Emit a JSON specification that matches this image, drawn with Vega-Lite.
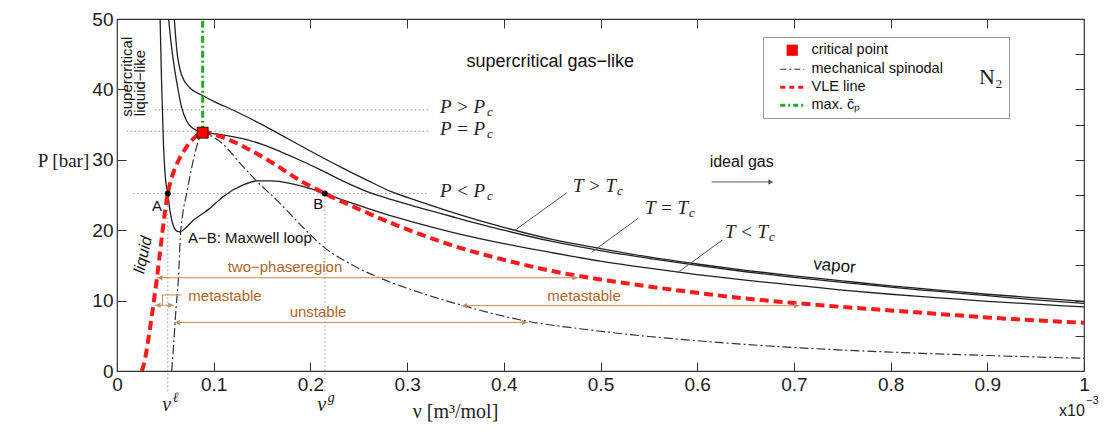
{
  "$schema": "https://vega.github.io/schema/vega-lite/v6.json",
  "width": 967,
  "height": 352,
  "autosize": {"type": "none"},
  "padding": {"left": 117, "top": 19, "right": 33, "bottom": 64},
  "background": "white",
  "config": {
    "view": {"stroke": "#333", "strokeWidth": 1.2},
    "axis": {"grid": false, "domain": false, "tickColor": "#333", "tickSize": -9, "tickWidth": 1,
      "labelFont": "Liberation Sans", "labelFontSize": 19, "labelColor": "#222", "labelFlush": false, "labelOverlap": false, "labelBound": false,
      "titleFont": "Liberation Serif", "titleFontSize": 20, "titleFontWeight": "normal", "titleColor": "#222"},
    "text": {"font": "Liberation Sans", "color": "#111"}
  },
  "datasets": {
    "iso": [
      {"T":"gt","v":0.059,"P":50.5},{"T":"gt","v":0.0617,"P":45.8},{"T":"gt","v":0.0669,"P":42.0},{"T":"gt","v":0.0755,"P":40.2},{"T":"gt","v":0.0876,"P":39.2},{"T":"gt","v":0.1,"P":38.3},{"T":"gt","v":0.113,"P":37.5},{"T":"gt","v":0.13,"P":36.4},{"T":"gt","v":0.15,"P":35.0},{"T":"gt","v":0.17,"P":33.5},{"T":"gt","v":0.19,"P":32.0},{"T":"gt","v":0.21,"P":30.5},{"T":"gt","v":0.235,"P":28.7},{"T":"gt","v":0.26,"P":27.0},{"T":"gt","v":0.285,"P":25.4},{"T":"gt","v":0.31,"P":24.2},{"T":"gt","v":0.35,"P":22.4},{"T":"gt","v":0.4,"P":20.4},{"T":"gt","v":0.45,"P":18.7},{"T":"gt","v":0.5,"P":17.4},{"T":"gt","v":0.55,"P":16.2},{"T":"gt","v":0.6,"P":15.2},{"T":"gt","v":0.65,"P":14.3},{"T":"gt","v":0.7,"P":13.5},{"T":"gt","v":0.75,"P":12.8},{"T":"gt","v":0.8,"P":12.1},{"T":"gt","v":0.85,"P":11.5},{"T":"gt","v":0.9,"P":10.9},{"T":"gt","v":0.95,"P":10.4},{"T":"gt","v":1.0,"P":9.9},
      {"T":"eq","v":0.053,"P":50.5},{"T":"eq","v":0.0566,"P":45.8},{"T":"eq","v":0.0617,"P":41.1},{"T":"eq","v":0.0669,"P":37.4},{"T":"eq","v":0.072,"P":35.5},{"T":"eq","v":0.078,"P":34.5},{"T":"eq","v":0.0886,"P":33.9},{"T":"eq","v":0.1,"P":33.7},{"T":"eq","v":0.115,"P":33.4},{"T":"eq","v":0.13,"P":33.0},{"T":"eq","v":0.15,"P":32.2},{"T":"eq","v":0.17,"P":31.1},{"T":"eq","v":0.19,"P":29.9},{"T":"eq","v":0.21,"P":28.6},{"T":"eq","v":0.235,"P":26.9},{"T":"eq","v":0.26,"P":25.4},{"T":"eq","v":0.285,"P":24.3},{"T":"eq","v":0.31,"P":23.3},{"T":"eq","v":0.35,"P":21.8},{"T":"eq","v":0.4,"P":20.0},{"T":"eq","v":0.45,"P":18.4},{"T":"eq","v":0.5,"P":17.1},{"T":"eq","v":0.55,"P":16.0},{"T":"eq","v":0.6,"P":15.0},{"T":"eq","v":0.65,"P":14.1},{"T":"eq","v":0.7,"P":13.3},{"T":"eq","v":0.75,"P":12.6},{"T":"eq","v":0.8,"P":11.9},{"T":"eq","v":0.85,"P":11.3},{"T":"eq","v":0.9,"P":10.7},{"T":"eq","v":0.95,"P":10.1},{"T":"eq","v":1.0,"P":9.6},
      {"T":"lt","v":0.0445,"P":50.5},{"T":"lt","v":0.046,"P":41.5},{"T":"lt","v":0.048,"P":32.5},{"T":"lt","v":0.05,"P":27.5},{"T":"lt","v":0.0525,"P":25.2},{"T":"lt","v":0.055,"P":22.6},{"T":"lt","v":0.058,"P":20.7},{"T":"lt","v":0.0615,"P":19.9},{"T":"lt","v":0.065,"P":19.75},{"T":"lt","v":0.07,"P":20.2},{"T":"lt","v":0.079,"P":21.4},{"T":"lt","v":0.088,"P":22.3},{"T":"lt","v":0.096,"P":23.1},{"T":"lt","v":0.11,"P":24.8},{"T":"lt","v":0.13,"P":26.4},{"T":"lt","v":0.145,"P":27.0},{"T":"lt","v":0.16,"P":27.0},{"T":"lt","v":0.18,"P":26.6},{"T":"lt","v":0.2,"P":25.9},{"T":"lt","v":0.215,"P":25.2},{"T":"lt","v":0.24,"P":24.0},{"T":"lt","v":0.27,"P":22.6},{"T":"lt","v":0.3,"P":21.4},{"T":"lt","v":0.35,"P":19.6},{"T":"lt","v":0.4,"P":18.1},{"T":"lt","v":0.45,"P":16.8},{"T":"lt","v":0.5,"P":15.6},{"T":"lt","v":0.55,"P":14.6},{"T":"lt","v":0.6,"P":13.7},{"T":"lt","v":0.65,"P":12.9},{"T":"lt","v":0.7,"P":12.2},{"T":"lt","v":0.75,"P":11.5},{"T":"lt","v":0.8,"P":10.9},{"T":"lt","v":0.85,"P":10.4},{"T":"lt","v":0.9,"P":9.9},{"T":"lt","v":0.95,"P":9.5},{"T":"lt","v":1.0,"P":9.1}
    ],
    "vle": [
      {"v":0.0256,"P":0},{"v":0.0275,"P":0.8},{"v":0.0307,"P":3.0},{"v":0.0335,"P":5.5},{"v":0.0359,"P":7.7},{"v":0.0385,"P":10.3},{"v":0.041,"P":12.9},{"v":0.0435,"P":15.7},{"v":0.046,"P":18.6},{"v":0.049,"P":22.0},{"v":0.0525,"P":25.2},{"v":0.056,"P":27.2},{"v":0.06,"P":28.8},{"v":0.065,"P":30.3},{"v":0.0703,"P":31.5},{"v":0.079,"P":33.0},{"v":0.0886,"P":33.85},{"v":0.096,"P":33.8},{"v":0.103,"P":33.5},{"v":0.115,"P":32.9},{"v":0.1306,"P":31.9},{"v":0.148,"P":30.6},{"v":0.165,"P":29.2},{"v":0.19,"P":27.0},{"v":0.215,"P":25.2},{"v":0.25,"P":23.0},{"v":0.293,"P":20.5},{"v":0.35,"P":17.7},{"v":0.4,"P":15.8},{"v":0.45,"P":14.2},{"v":0.5,"P":13.0},{"v":0.55,"P":12.0},{"v":0.6,"P":11.1},{"v":0.65,"P":10.3},{"v":0.706,"P":9.6},{"v":0.75,"P":9.1},{"v":0.8,"P":8.6},{"v":0.85,"P":8.1},{"v":0.9,"P":7.6},{"v":0.95,"P":7.2},{"v":1.0,"P":6.85}
    ],
    "spin": [
      {"v":0.0566,"P":0},{"v":0.0585,"P":3.5},{"v":0.06,"P":6.8},{"v":0.062,"P":10.5},{"v":0.0634,"P":12.9},{"v":0.0645,"P":16.0},{"v":0.0655,"P":19.0},{"v":0.068,"P":22.3},{"v":0.072,"P":25.2},{"v":0.079,"P":30.0},{"v":0.084,"P":32.6},{"v":0.0886,"P":33.85},{"v":0.096,"P":33.5},{"v":0.1065,"P":32.6},{"v":0.1306,"P":29.0},{"v":0.145,"P":26.9},{"v":0.165,"P":24.3},{"v":0.196,"P":19.9},{"v":0.213,"P":17.7},{"v":0.24,"P":15.3},{"v":0.272,"P":13.2},{"v":0.293,"P":12.1},{"v":0.355,"P":9.4},{"v":0.427,"P":7.0},{"v":0.479,"P":6.0},{"v":0.55,"P":4.9},{"v":0.6,"P":4.3},{"v":0.686,"P":3.45},{"v":0.789,"P":2.74},{"v":0.9,"P":2.2},{"v":1.0,"P":1.8}
    ]
  },
  "layer": [
    {
      "data": {"values": [{"v1":0.039,"v2":0.322,"P":37.1},{"v1":0.010,"v2":0.322,"P":34.05},{"v1":0.0165,"v2":0.322,"P":25.2}]},
      "mark": {"type": "rule", "color": "#999", "strokeWidth": 1, "strokeDash": [1.5, 2.5]},
      "encoding": {
        "x": {"field": "v1", "type": "quantitative", "scale": {"domain": [0, 1], "nice": false, "zero": false},
              "axis": {"orient": "top", "labels": false, "title": null, "values": [0.1,0.2,0.3,0.4,0.5,0.6,0.7,0.8,0.9]}},
        "x2": {"field": "v2"},
        "y": {"field": "P", "type": "quantitative", "scale": {"domain": [0, 50], "nice": false, "zero": false},
              "axis": {"orient": "right", "labels": false, "title": null, "values": [5,10,15,20,25,30,35,40,45]}}
      }
    },
    {
      "layer": [
        {
          "data": {"values": [{"v":0.0525,"P1":25.2,"P2":-3.2},{"v":0.215,"P1":25.2,"P2":-3.2}]},
          "mark": {"type": "rule", "color": "#999", "strokeWidth": 1, "strokeDash": [1.5, 2.5], "clip": false},
          "encoding": {
            "x": {"field": "v", "type": "quantitative", "scale": {"domain": [0, 1], "nice": false, "zero": false},
                  "axis": {"orient": "bottom", "values": [0,0.1,0.2,0.3,0.4,0.5,0.6,0.7,0.8,0.9,1], "format": "~g", "labelPadding": 13,
                           "title": "ν [m³/mol]", "titleX": 338, "titleY": 40, "titleBaseline": "middle", "titleAlign": "center", "titleAnchor": null}},
            "y": {"field": "P1", "type": "quantitative", "scale": {"domain": [0, 50], "nice": false, "zero": false},
                  "axis": {"orient": "left", "values": [0,5,10,15,20,25,30,35,40,45,50], "labelPadding": 13,
                           "title": "P [bar]", "titleFontSize": 19, "titleAngle": 0, "titleX": -54, "titleY": 141, "titleAlign": "center", "titleBaseline": "middle", "titleAnchor": null}},
            "y2": {"field": "P2"}
          }
        },
        {
          "data": {"name": "iso"},
          "mark": {"type": "line", "color": "#222", "strokeWidth": 1.3, "interpolate": "monotone", "clip": true},
          "encoding": {
            "x": {"field": "v", "type": "quantitative"},
            "y": {"field": "P", "type": "quantitative"},
            "detail": {"field": "T"}
          }
        },
        {
          "data": {"name": "spin"},
          "mark": {"type": "line", "strokeWidth": 1.2, "strokeDash": [9, 3, 2, 3], "interpolate": "monotone", "clip": true},
          "encoding": {
            "x": {"field": "v", "type": "quantitative"},
            "y": {"field": "P", "type": "quantitative"},
            "color": {"datum": "mechanical spinodal",
              "scale": {"domain": ["critical point", "mechanical spinodal", "VLE line", "max. c̄ₚ"], "range": ["#ff0000", "#333333", "#ff1a1a", "#1faa1f"]},
              "legend": {
                "orient": "none", "legendX": 646, "legendY": 18,
                "title": "N₂ ", "titleOrient": "right", "titleFont": "Liberation Serif", "titleFontSize": 22, "titleFontWeight": "normal", "titleColor": "#222",
                "titlePadding": 36, "titleBaseline": "middle", "titleAnchor": "middle",
                "strokeColor": "#999", "fillColor": "white", "padding": 6,
                "symbolOffset": 16, "labelOffset": 12, "symbolSize": 100, "rowPadding": 3,
                "labelFont": "Liberation Sans", "labelFontSize": 14.5, "labelColor": "#111",
                "encode": {"symbols": {"update": {
                  "shape": {"signal": "datum.value === 'critical point' ? 'square' : 'stroke'"},
                  "size": {"signal": "datum.value === 'critical point' ? 110 : 576"},
                  "fill": {"signal": "datum.value === 'critical point' ? '#ff0000' : 'transparent'"},
                  "fillOpacity": {"value": 1},
                  "opacity": {"value": 1},
                  "stroke": {"signal": "datum.value === 'critical point' ? '#000000' : scale('color', datum.value)"},
                  "strokeWidth": {"signal": "datum.value === 'critical point' ? 0.8 : (datum.value === 'mechanical spinodal' ? 1.2 : 3)"},
                  "strokeDash": {"signal": "datum.value === 'mechanical spinodal' ? [6,3,2,3] : (datum.value === 'VLE line' ? [5,4] : (datum.value === 'critical point' ? [1,0] : [5,3,2,3]))"}
                }}}
              }
            }
          }
        },
        {
          "data": {"name": "vle"},
          "mark": {"type": "line", "strokeWidth": 4, "strokeDash": [9, 5], "interpolate": "monotone", "clip": true},
          "encoding": {
            "x": {"field": "v", "type": "quantitative"},
            "y": {"field": "P", "type": "quantitative"},
            "color": {"datum": "VLE line"}
          }
        },
        {
          "data": {"values": [{"v":0.0886,"P":33.85},{"v":0.0886,"P":50.5}]},
          "mark": {"type": "line", "strokeWidth": 3, "strokeDash": [7, 3, 2, 3], "clip": true},
          "encoding": {
            "x": {"field": "v", "type": "quantitative"},
            "y": {"field": "P", "type": "quantitative"},
            "color": {"datum": "max. c̄ₚ"}
          }
        },
        {
          "data": {"values": [{"v1":0.041,"v2":0.477,"P":13.25},{"v1":0.039,"v2":0.059,"P":9.33},{"v1":0.356,"v2":0.706,"P":9.28},{"v1":0.059,"v2":0.425,"P":6.9}]},
          "mark": {"type": "rule", "color": "#c48a5e", "strokeWidth": 1},
          "encoding": {
            "x": {"field": "v1", "type": "quantitative"},
            "x2": {"field": "v2"},
            "y": {"field": "P", "type": "quantitative"}
          }
        },
        {
          "data": {"values": [{"v":0.0669,"P":10.8,"o":1},{"v":0.047,"P":10.8,"o":2},{"v":0.047,"P":9.33,"o":3}]},
          "mark": {"type": "line", "color": "#c48a5e", "strokeWidth": 1},
          "encoding": {
            "x": {"field": "v", "type": "quantitative"},
            "y": {"field": "P", "type": "quantitative"},
            "order": {"field": "o"}
          }
        },
        {
          "data": {"values": [
            {"v":0.0445,"P":13.25,"dir":"left"},{"v":0.4735,"P":13.25,"dir":"right"},
            {"v":0.0425,"P":9.33,"dir":"left"},{"v":0.0555,"P":9.33,"dir":"right"},
            {"v":0.3595,"P":9.28,"dir":"left"},{"v":0.7025,"P":9.28,"dir":"right"},
            {"v":0.0625,"P":6.9,"dir":"left"},{"v":0.4215,"P":6.9,"dir":"right"}
          ]},
          "mark": {"type": "point", "filled": true, "color": "#c48a5e", "size": 30, "opacity": 1},
          "encoding": {
            "x": {"field": "v", "type": "quantitative"},
            "y": {"field": "P", "type": "quantitative"},
            "shape": {"field": "dir", "type": "nominal", "scale": {"domain": ["left", "right"], "range": ["triangle-left", "triangle-right"]}, "legend": null}
          }
        },
        {
          "data": {"values": [
            {"v1":0.465,"P1":25.3,"v2":0.4116,"P2":20.0},
            {"v1":0.539,"P1":21.7,"v2":0.491,"P2":16.9},
            {"v1":0.626,"P1":18.6,"v2":0.579,"P2":13.9},
            {"v1":0.615,"P1":26.85,"v2":0.676,"P2":26.85}
          ]},
          "mark": {"type": "rule", "color": "#555", "strokeWidth": 1},
          "encoding": {
            "x": {"field": "v1", "type": "quantitative"},
            "x2": {"field": "v2"},
            "y": {"field": "P1", "type": "quantitative"},
            "y2": {"field": "P2"}
          }
        },
        {
          "data": {"values": [{"v":0.676,"P":26.85}]},
          "mark": {"type": "point", "filled": true, "color": "#555", "size": 30, "shape": "triangle-right", "opacity": 1},
          "encoding": {
            "x": {"field": "v", "type": "quantitative"},
            "y": {"field": "P", "type": "quantitative"}
          }
        },
        {
          "data": {"values": [{"v":0.0525,"P":25.2},{"v":0.215,"P":25.2}]},
          "mark": {"type": "point", "filled": true, "color": "#000", "size": 36, "opacity": 1},
          "encoding": {
            "x": {"field": "v", "type": "quantitative"},
            "y": {"field": "P", "type": "quantitative"}
          }
        },
        {
          "data": {"values": [{"v":0.0886,"P":33.85}]},
          "mark": {"type": "point", "filled": true, "shape": "square", "size": 121, "stroke": "#000", "strokeWidth": 0.8, "opacity": 1},
          "encoding": {
            "x": {"field": "v", "type": "quantitative"},
            "y": {"field": "P", "type": "quantitative"},
            "color": {"datum": "critical point"}
          }
        },
        {
          "data": {"values": [{"v":0.448,"P":43.9,"t":"supercritical gas−like"}]},
          "mark": {"type": "text", "fontSize": 18, "align": "center", "baseline": "middle"},
          "encoding": {"x": {"field": "v", "type": "quantitative"}, "y": {"field": "P", "type": "quantitative"}, "text": {"field": "t"}}
        },
        {
          "data": {"values": [{"v":0.646,"P":29.7,"t":"ideal gas"}]},
          "mark": {"type": "text", "fontSize": 16, "align": "center", "baseline": "middle"},
          "encoding": {"x": {"field": "v", "type": "quantitative"}, "y": {"field": "P", "type": "quantitative"}, "text": {"field": "t"}}
        },
        {
          "data": {"values": [{"v":0.742,"P":14.9,"t":"vapor"}]},
          "mark": {"type": "text", "fontSize": 17, "align": "center", "baseline": "middle", "angle": 5},
          "encoding": {"x": {"field": "v", "type": "quantitative"}, "y": {"field": "P", "type": "quantitative"}, "text": {"field": "t"}}
        },
        {
          "data": {"values": [{"v":0.0414,"P":23.4,"t":"A"},{"v":0.208,"P":23.7,"t":"B"}]},
          "mark": {"type": "text", "fontSize": 15, "align": "center", "baseline": "middle"},
          "encoding": {"x": {"field": "v", "type": "quantitative"}, "y": {"field": "P", "type": "quantitative"}, "text": {"field": "t"}}
        },
        {
          "data": {"values": [{"v":0.0734,"P":18.9,"t":"A−B: Maxwell loop"}]},
          "mark": {"type": "text", "fontSize": 15, "align": "left", "baseline": "middle"},
          "encoding": {"x": {"field": "v", "type": "quantitative"}, "y": {"field": "P", "type": "quantitative"}, "text": {"field": "t"}}
        },
        {
          "data": {"values": [{"v":0.0108,"P":41.8,"t":"supercritical"},{"v":0.0238,"P":40.9,"t":"liquid−like"}]},
          "mark": {"type": "text", "fontSize": 15, "align": "center", "baseline": "middle", "angle": 270},
          "encoding": {"x": {"field": "v", "type": "quantitative"}, "y": {"field": "P", "type": "quantitative"}, "text": {"field": "t"}}
        },
        {
          "data": {"values": [{"v":0.0269,"P":16.5,"t":"liquid"}]},
          "mark": {"type": "text", "fontSize": 16, "fontStyle": "italic", "align": "center", "baseline": "middle", "angle": 282},
          "encoding": {"x": {"field": "v", "type": "quantitative"}, "y": {"field": "P", "type": "quantitative"}, "text": {"field": "t"}}
        },
        {
          "data": {"values": [{"v":0.1737,"P":14.8,"t":"two−phaseregion"},{"v":0.1117,"P":10.65,"t":"metastable"},{"v":0.2079,"P":8.4,"t":"unstable"},{"v":0.483,"P":10.65,"t":"metastable"}]},
          "mark": {"type": "text", "fontSize": 15, "align": "center", "baseline": "middle", "color": "#b0652a"},
          "encoding": {"x": {"field": "v", "type": "quantitative"}, "y": {"field": "P", "type": "quantitative"}, "text": {"field": "t"}}
        },
        {
          "data": {"values": [{"v":0.334,"P":37.5,"t":"P > P"},{"v":0.334,"P":34.4,"t":"P = P"},{"v":0.334,"P":25.6,"t":"P < P"}]},
          "mark": {"type": "text", "font": "Liberation Serif", "fontStyle": "italic", "fontSize": 19, "align": "left", "baseline": "middle", "color": "#222"},
          "encoding": {"x": {"field": "v", "type": "quantitative"}, "y": {"field": "P", "type": "quantitative"}, "text": {"field": "t"}}
        },
        {
          "data": {"values": [{"v":0.334,"P":37.5,"t":"c"},{"v":0.334,"P":34.4,"t":"c"},{"v":0.334,"P":25.6,"t":"c"}]},
          "mark": {"type": "text", "font": "Liberation Serif", "fontStyle": "italic", "fontSize": 13, "align": "left", "baseline": "middle", "dx": 47, "dy": 5, "color": "#222"},
          "encoding": {"x": {"field": "v", "type": "quantitative"}, "y": {"field": "P", "type": "quantitative"}, "text": {"field": "t"}}
        },
        {
          "data": {"values": [{"v":0.4716,"P":26.3,"t":"T > T"},{"v":0.546,"P":23.15,"t":"T = T"},{"v":0.6287,"P":19.7,"t":"T < T"}]},
          "mark": {"type": "text", "font": "Liberation Serif", "fontStyle": "italic", "fontSize": 19, "align": "left", "baseline": "middle", "color": "#222"},
          "encoding": {"x": {"field": "v", "type": "quantitative"}, "y": {"field": "P", "type": "quantitative"}, "text": {"field": "t"}}
        },
        {
          "data": {"values": [{"v":0.4716,"P":26.3,"t":"c"},{"v":0.546,"P":23.15,"t":"c"},{"v":0.6287,"P":19.7,"t":"c"}]},
          "mark": {"type": "text", "font": "Liberation Serif", "fontStyle": "italic", "fontSize": 13, "align": "left", "baseline": "middle", "dx": 44, "dy": 5, "color": "#222"},
          "encoding": {"x": {"field": "v", "type": "quantitative"}, "y": {"field": "P", "type": "quantitative"}, "text": {"field": "t"}}
        },
        {
          "data": {"values": [{"v":0.0514,"P":-4.83,"t":"ν"},{"v":0.2117,"P":-4.83,"t":"ν"}]},
          "mark": {"type": "text", "font": "Liberation Serif", "fontStyle": "italic", "fontSize": 20, "align": "center", "baseline": "middle", "color": "#222"},
          "encoding": {"x": {"field": "v", "type": "quantitative"}, "y": {"field": "P", "type": "quantitative"}, "text": {"field": "t"}}
        },
        {
          "data": {"values": [{"v":0.0514,"P":-4.83,"t":"ℓ"},{"v":0.2117,"P":-4.83,"t":"g"}]},
          "mark": {"type": "text", "font": "Liberation Serif", "fontStyle": "italic", "fontSize": 14, "align": "left", "baseline": "middle", "dx": 6, "dy": -7, "color": "#222"},
          "encoding": {"x": {"field": "v", "type": "quantitative"}, "y": {"field": "P", "type": "quantitative"}, "text": {"field": "t"}}
        },
        {
          "data": {"values": [{"v":0.9876,"P":-5.68,"t":"x10"}]},
          "mark": {"type": "text", "fontSize": 16, "align": "center", "baseline": "middle", "color": "#222"},
          "encoding": {"x": {"field": "v", "type": "quantitative"}, "y": {"field": "P", "type": "quantitative"}, "text": {"field": "t"}}
        },
        {
          "data": {"values": [{"v":0.9876,"P":-5.68,"t":"−3"}]},
          "mark": {"type": "text", "fontSize": 11, "align": "left", "baseline": "middle", "dx": 14, "dy": -10, "color": "#222"},
          "encoding": {"x": {"field": "v", "type": "quantitative"}, "y": {"field": "P", "type": "quantitative"}, "text": {"field": "t"}}
        }
      ]
    }
  ],
  "resolve": {"axis": {"x": "independent", "y": "independent"}}
}
